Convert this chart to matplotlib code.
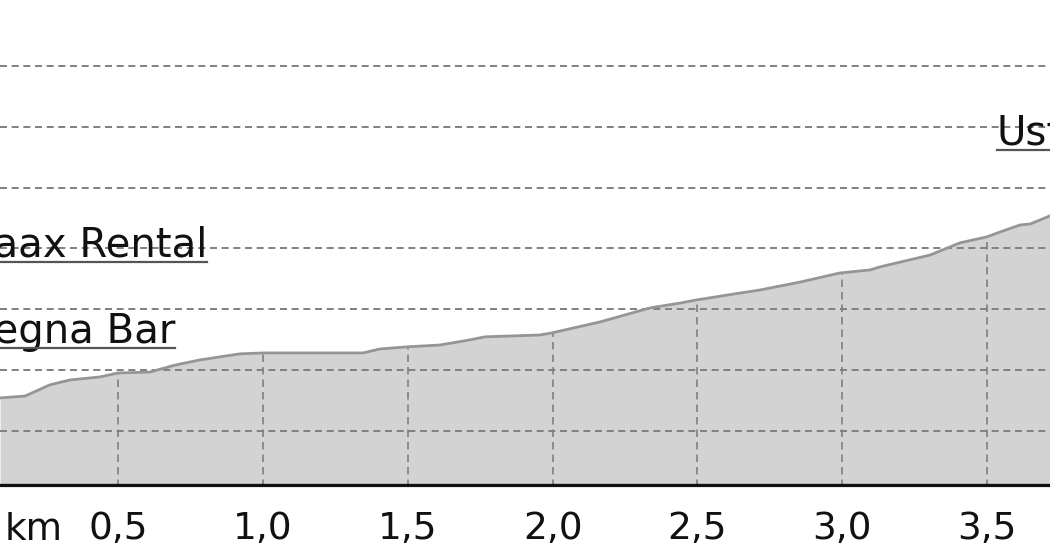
import numpy as np
import matplotlib
matplotlib.use("Agg")
import matplotlib.pyplot as plt

# distance (km) and elevation (m) of the profile
dist_km = [0.093, 0.179, 0.265, 0.334, 0.438, 0.500, 0.610, 0.697, 0.783, 0.921,
           1.004, 1.346, 1.404, 1.498, 1.611, 1.715, 1.767, 1.957, 1.998, 2.164,
           2.336, 2.440, 2.495, 2.647, 2.716, 2.854, 2.992, 3.096, 3.130, 3.303,
           3.406, 3.500, 3.545, 3.614, 3.648, 3.717]
elev_m = [1090.8, 1091.4, 1095.1, 1096.7, 1097.7, 1099.0, 1099.3, 1101.6, 1103.3, 1105.3,
          1105.6, 1105.6, 1106.9, 1107.6, 1108.2, 1109.9, 1110.9, 1111.5, 1112.2, 1115.8,
          1120.4, 1122.0, 1123.0, 1125.3, 1126.3, 1128.9, 1131.9, 1132.9, 1133.9, 1137.8,
          1141.8, 1143.8, 1145.4, 1147.7, 1148.0, 1150.7]

xticks = [0.5, 1.0, 1.5, 2.0, 2.5, 3.0, 3.5]
xtick_labels = ["0,5", "1,0", "1,5", "2,0", "2,5", "3,0", "3,5"]
ygrid = [1080, 1100, 1120, 1140, 1160, 1180, 1200]

poi_names = ["Laax Rental", "Segna Bar", "Ustaria"]
poi_km = [0.807, 0.697, 3.534]
poi_elev = [1137.2, 1108.9, 1174.0]
poi_align = ["right", "right", "left"]

XMIN, XMAX = 0.0927, 3.717
YMIN, YMAX = 1061.5, 1221.7

fig = plt.figure(figsize=(10.5, 5.6), dpi=100)
ax = fig.add_axes([0, 0.1304, 1, 0.8696])
ax.set_xlim(XMIN, XMAX)
ax.set_ylim(YMIN, YMAX)
for s in ax.spines.values():
    s.set_visible(False)
ax.set_yticks([])

grid_col = "#808080"
dash = (0, (3.6, 2.4))

ax.fill_between(dist_km, elev_m, YMIN, color="#d3d3d3", lw=0, zorder=1)

# vertical grid lines only under the profile
tops = np.interp(xticks, dist_km, elev_m)
ax.vlines(xticks, YMIN, tops, colors=grid_col, linestyles=[(0, (4.5, 3.0))], lw=1.2, zorder=2)

for g in ygrid:
    ax.axhline(g, color=grid_col, lw=1.4, linestyle=dash, zorder=2)

ax.plot(dist_km, elev_m, color="#959595", lw=2.0, zorder=3, solid_joinstyle="round")
ax.axhline(YMIN + 0.5, color="#111111", lw=2.4, zorder=4)

ax.set_xticks(xticks)
ax.set_xticklabels(xtick_labels, fontsize=27, color="#111111")
ax.tick_params(axis="x", length=0, pad=17)
ax.text(5 / 1050, -0.108, "km", transform=ax.transAxes, fontsize=27,
        color="#111111", ha="left", va="baseline")

texts = []
for name, xk, ye, al in zip(poi_names, poi_km, poi_elev, poi_align):
    t = ax.text(xk, ye, name, fontsize=29, color="#111111", ha=al, va="baseline",
                zorder=5, clip_on=False)
    texts.append(t)

fig.canvas.draw()
r = fig.canvas.get_renderer()
inv = ax.transData.inverted()
for t in texts:
    bb = t.get_window_extent(r)
    bx, by = ax.transData.transform((t.get_position()[0], t.get_position()[1]))
    (x0, y0) = inv.transform((bb.x0, by - 5))
    (x1, _) = inv.transform((bb.x1, by - 5))
    ax.plot([x0, x1], [y0, y0], color="#555555", lw=1.6, zorder=5, clip_on=False)

fig.savefig("out.png", dpi=100)
